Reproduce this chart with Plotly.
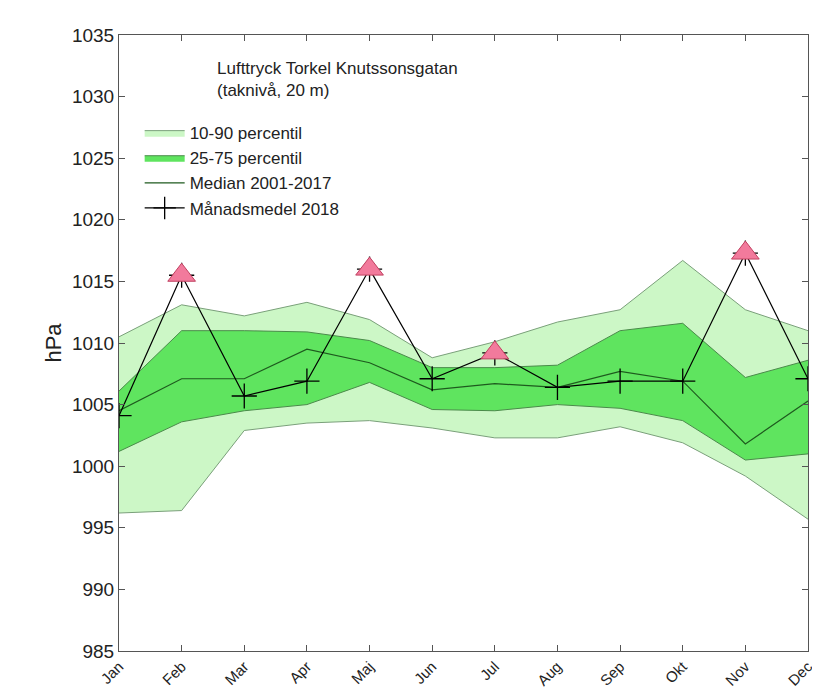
import plotly.graph_objects as go

months = ["Jan","Feb","Mar","Apr","Maj","Jun","Jul","Aug","Sep","Okt","Nov","Dec"]
p90 = [1010.5,1013.1,1012.2,1013.3,1011.9,1008.8,1010.1,1011.7,1012.7,1016.7,1012.7,1011.0]
p75 = [1006.1,1011.0,1011.0,1010.9,1010.2,1008.0,1008.0,1008.2,1011.0,1011.6,1007.2,1008.6]
median = [1004.5,1007.1,1007.1,1009.5,1008.4,1006.2,1006.7,1006.4,1007.7,1006.9,1001.8,1005.3]
p25 = [1001.2,1003.6,1004.5,1005.0,1006.8,1004.6,1004.5,1005.0,1004.7,1003.7,1000.5,1001.0]
p10 = [996.2,996.4,1002.9,1003.5,1003.7,1003.1,1002.3,1002.3,1003.2,1001.9,999.2,995.7]
mean2018 = [1004.1,1015.5,1005.7,1006.9,1016.0,1007.1,1009.2,1006.4,1006.9,1006.9,1017.3,1007.1]
high_months = ["Feb","Maj","Jul","Nov"]
high_vals = [mean2018[months.index(m)] for m in high_months]

light = "#ccf7c6"; mid = "#5fe45f"; edge = "#7aa07a"
fig = go.Figure()
fig.add_trace(go.Scatter(x=months, y=p10, mode="lines", line=dict(color=edge, width=1), showlegend=False, hoverinfo="skip"))
fig.add_trace(go.Scatter(x=months, y=p90, mode="lines", fill="tonexty", fillcolor=light, line=dict(color=edge, width=1), name="10-90 percentil"))
fig.add_trace(go.Scatter(x=months, y=p25, mode="lines", line=dict(color="#4a8a4a", width=1), showlegend=False, hoverinfo="skip"))
fig.add_trace(go.Scatter(x=months, y=p75, mode="lines", fill="tonexty", fillcolor=mid, line=dict(color="#4a8a4a", width=1), name="25-75 percentil"))
fig.add_trace(go.Scatter(x=months, y=median, mode="lines", line=dict(color="#1e5a1e", width=1.2), name="Median 2001-2017"))
fig.add_trace(go.Scatter(x=months, y=mean2018, mode="lines+markers", line=dict(color="black", width=1.2), marker=dict(symbol="cross-thin", size=18, line=dict(color="black", width=1.3)), name="Månadsmedel 2018"))
fig.add_trace(go.Scatter(x=high_months, y=high_vals, mode="markers", marker=dict(symbol="triangle-up", size=24, color="#f27a9c", line=dict(color="#c04060", width=1)), showlegend=False))

fig.add_annotation(xref="paper", yref="paper", x=0.14, y=0.965, xanchor="left", yanchor="top", showarrow=False, align="left",
                   text="Lufttryck Torkel Knutssonsgatan<br>(taknivå, 20 m)", font=dict(size=17, color="#222"))

fig.update_layout(
    width=820, height=693, margin=dict(l=111, r=12, t=27, b=49),
    paper_bgcolor="white", plot_bgcolor="white",
    font=dict(family="Liberation Sans, Arial", size=19, color="#222"),
    legend=dict(x=0.03, y=0.87, xanchor="left", yanchor="top", bgcolor="rgba(0,0,0,0)", font=dict(size=17), traceorder="normal", tracegroupgap=0, itemwidth=40),
    xaxis=dict(range=[0, 11], tickangle=-45, showgrid=False, showline=True, linecolor="#555", mirror="ticks", ticks="inside", ticklen=6, tickcolor="#555", tickfont=dict(size=15)),
    yaxis=dict(range=[985, 1035], dtick=5, title=dict(text="hPa", font=dict(size=22), standoff=4), showgrid=False, showline=True, linecolor="#555", mirror="ticks", ticks="inside", ticklen=6, tickcolor="#555", zeroline=False),
)
fig.write_html("out.html")
